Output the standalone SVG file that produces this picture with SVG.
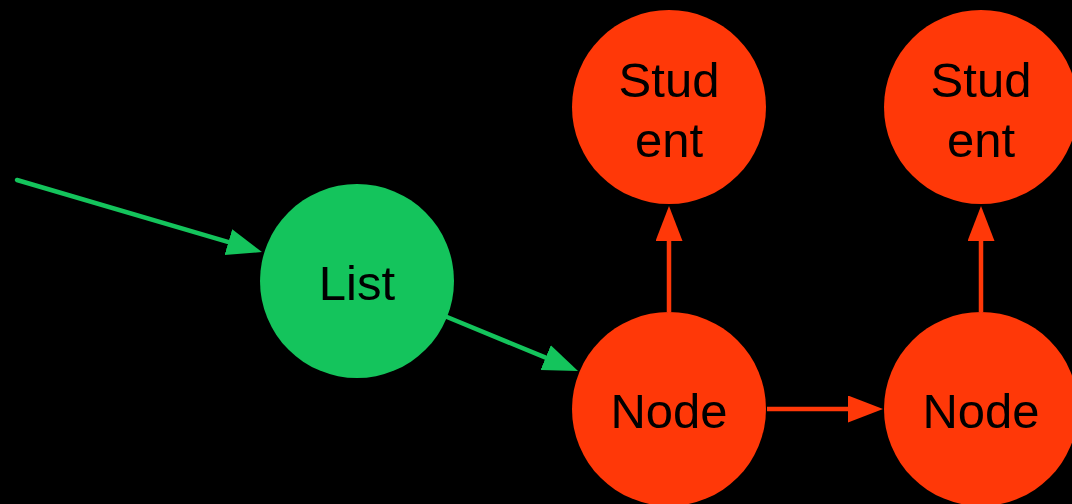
<svg xmlns="http://www.w3.org/2000/svg" width="1072" height="504" viewBox="0 0 1072 504">
  <style>
    .g { fill: #14c45c; }
    .r { fill: #ff3808; }
    .lbl { font-family: "Liberation Sans", Arial, sans-serif; font-size: 49px; fill: #000; text-anchor: middle; }
    .eg { stroke: #14c45c; stroke-width: 4.5; fill: none; stroke-linecap: round; }
    .er { stroke: #ff3808; stroke-width: 4.5; fill: none; }
  </style>
  <defs>
    <marker id="ag" markerUnits="userSpaceOnUse" markerWidth="36" markerHeight="28" refX="2" refY="13.5" orient="auto">
      <path d="M0,0 L35,13.5 L0,27 z" fill="#14c45c"/>
    </marker>
    <marker id="ar" markerUnits="userSpaceOnUse" markerWidth="36" markerHeight="28" refX="2" refY="13.5" orient="auto">
      <path d="M0,0 L35,13.5 L0,27 z" fill="#ff3808"/>
    </marker>
  </defs>
  <rect width="1072" height="504" fill="#000"/>
  <g id="connectors">
    <path class="eg" d="M17,180 L230.3,242.7" marker-end="url(#ag)"/>
    <path class="eg" d="M447,317 L547.5,358.4" marker-end="url(#ag)"/>
    <path class="er" d="M669,312 L669,239" marker-end="url(#ar)"/>
    <path class="er" d="M981,312 L981,239" marker-end="url(#ar)"/>
    <path class="er" d="M767,409 L850,409" marker-end="url(#ar)"/>
  </g>
  <g id="list">
    <circle class="g" cx="357" cy="281" r="97"/>
    <text class="lbl" x="357" y="300">List</text>
  </g>
  <g id="student1">
    <circle class="r" cx="669" cy="107" r="97"/>
    <text class="lbl" x="669" y="97">Stud</text>
    <text class="lbl" x="669" y="157">ent</text>
  </g>
  <g id="student2">
    <circle class="r" cx="981" cy="107" r="97"/>
    <text class="lbl" x="981" y="97">Stud</text>
    <text class="lbl" x="981" y="157">ent</text>
  </g>
  <g id="node1">
    <circle class="r" cx="669" cy="409" r="97"/>
    <text class="lbl" x="669" y="428">Node</text>
  </g>
  <g id="node2">
    <circle class="r" cx="981" cy="409" r="97"/>
    <text class="lbl" x="981" y="428">Node</text>
  </g>
</svg>
